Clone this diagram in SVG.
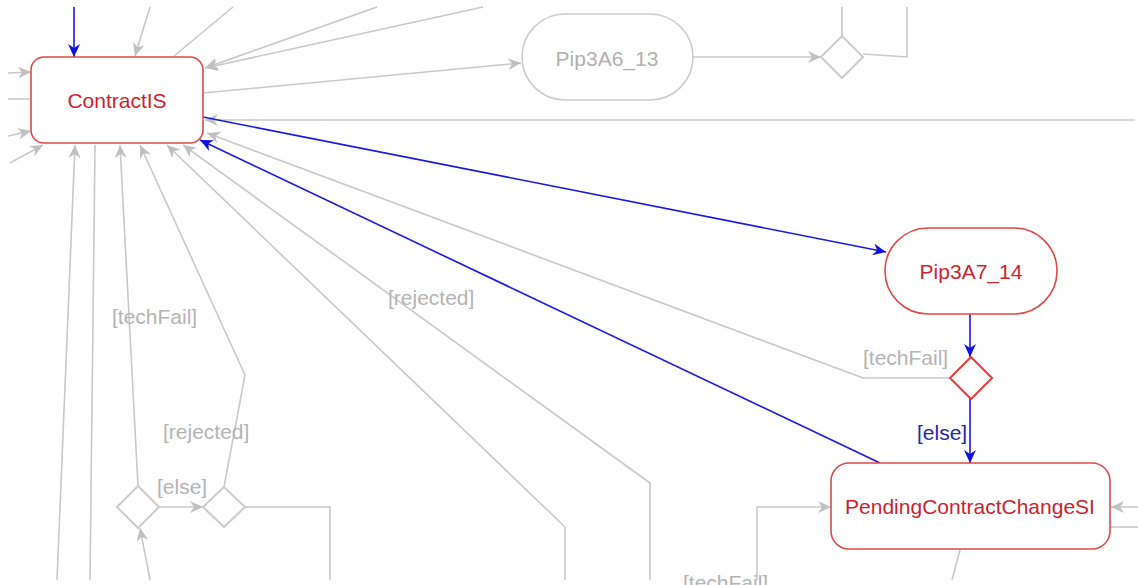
<svg xmlns="http://www.w3.org/2000/svg" width="1138" height="585" viewBox="0 0 1138 585">
<style>
.g{fill:none;stroke:#c8c8c8;stroke-width:1.6}
.b{fill:none;stroke:#1818e0;stroke-width:1.6}
.ga{marker-end:url(#ag)}
.ba{marker-end:url(#ab)}
.nr{fill:#fff;stroke:#e04848;stroke-width:1.6}
.ng{fill:#fff;stroke:#cccccc;stroke-width:1.6}
.dg{fill:#fff;stroke:#cccccc;stroke-width:2}
.dr{fill:#fff;stroke:#e83a3a;stroke-width:2}
text{font-family:"Liberation Sans",Arial,sans-serif;font-size:21px}
.tr{fill:#cc1f2f;text-anchor:middle}
.tg{fill:#b0b0b0;text-anchor:middle}
.lg{fill:#b4b4b4}
.lb{fill:#2626a0}
</style>
<defs>
<marker id="ag" markerUnits="userSpaceOnUse" markerWidth="14" markerHeight="12" refX="13" refY="6" orient="auto"><path d="M0,0 L13,6 L0,12 L4,6 z" fill="#c0c0c0"/></marker>
<marker id="ab" markerUnits="userSpaceOnUse" markerWidth="14" markerHeight="12" refX="13" refY="6" orient="auto"><path d="M0,0 L13,6 L0,12 L4,6 z" fill="#1010e0"/></marker>
</defs>
<rect width="1138" height="585" fill="#fff"/>
<g id="connectors">
<path class="g ga" d="M150,7 L135,56"/>
<path class="g" d="M233,7 L174,56"/>
<path class="g ga" d="M377,7 L205,68"/>
<path class="g ga" d="M483,7 L205,68"/>
<path class="g ga" d="M203,93 L521,63"/>
<path class="g ga" d="M1135,120 L205,120"/>
<path class="g ga" d="M693,57 L821,57"/>
<path class="g" d="M842,36 L842,7"/>
<path class="g" d="M863,54 L907,57 L907,7"/>
<path class="g ga" d="M950,378 L863,378 L207,133"/>
<path class="g ga" d="M565,580 L565,527 L167,145"/>
<path class="g ga" d="M650,580 L650,483 L183,145"/>
<path class="g ga" d="M57,580 L75,145"/>
<path class="g" d="M95,145 L90,580"/>
<path class="g ga" d="M138,486 L120,145"/>
<path class="g ga" d="M224,487 L245,375 L140,145"/>
<path class="g ga" d="M159,507 L203,507"/>
<path class="g" d="M245,507 L330,507 L330,580"/>
<path class="g ga" d="M150,580 L140,528"/>
<path class="g ga" d="M8,73 L31,72"/>
<path class="g" d="M8,99 L31,99"/>
<path class="g ga" d="M8,136 L31,131"/>
<path class="g ga" d="M10,163 L43,145"/>
<path class="g ga" d="M757,580 L757,507 L831,507"/>
<path class="g ga" d="M1138,507 L1111,507"/>
<path class="g" d="M1110,527 L1138,527"/>
<path class="g" d="M960,550 L952,580"/>
<path class="b ba" d="M74,7 L74,57"/>
<path class="b ba" d="M203,117 L886,252"/>
<path class="b ba" d="M880,463 L200,140"/>
<path class="b ba" d="M970,314 L970,357"/>
<path class="b ba" d="M970,399 L970,463"/>
<text class="lg" x="112" y="324">[techFail]</text>
<text class="lg" x="163" y="439">[rejected]</text>
<text class="lg" x="157" y="494">[else]</text>
<text class="lg" x="388" y="305">[rejected]</text>
<text class="lg" x="863" y="365">[techFail]</text>
<text class="lb" x="917" y="440">[else]</text>
<text class="lg" x="683" y="590">[techFail]</text>
</g>
<g id="ContractIS">
<rect class="nr" x="31" y="57" width="172" height="86" rx="13"/>
<text class="tr" x="117" y="108">ContractIS</text>
</g>
<g id="Pip3A6_13">
<rect class="ng" x="522" y="14" width="171" height="86" rx="43"/>
<text class="tg" x="607" y="66">Pip3A6_13</text>
</g>
<g id="Decision_top">
<path class="dg" d="M842,36 L863,57 L842,78 L821,57 z"/>
</g>
<g id="Pip3A7_14">
<rect class="nr" x="885" y="228" width="172" height="86" rx="43"/>
<text class="tr" x="971" y="279">Pip3A7_14</text>
</g>
<g id="Decision_red">
<path class="dr" d="M971,357 L992,378 L971,399 L950,378 z"/>
</g>
<g id="PendingContractChangeSI">
<rect class="nr" x="831" y="463" width="279" height="86" rx="18"/>
<text class="tr" x="970" y="514">PendingContractChangeSI</text>
</g>
<g id="Decision_1">
<path class="dg" d="M138,486 L159,507 L138,528 L117,507 z"/>
</g>
<g id="Decision_2">
<path class="dg" d="M224,487 L245,507 L224,527 L203,507 z"/>
</g>
</svg>
